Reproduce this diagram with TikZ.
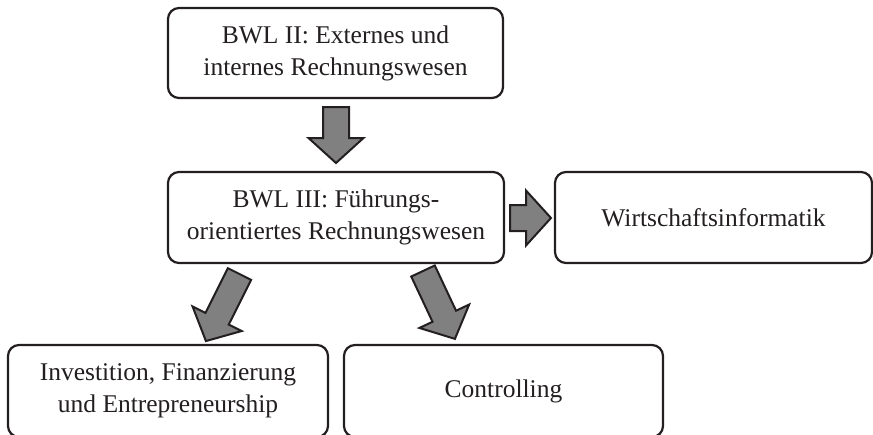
\documentclass[tikz,border=0pt]{standalone}
\usepackage{fontspec}
\setmainfont{Liberation Serif}
\definecolor{arrowgray}{RGB}{128,128,128}
\definecolor{inkblack}{RGB}{35,31,32}
\begin{document}
\begin{tikzpicture}[x=1pt,y=-1pt,
  box/.style={draw=inkblack, line width=2.2pt, rounded corners=11pt,
    align=center, inner sep=0pt, text=inkblack,
    font=\fontsize{25.5}{32}\selectfont},
  arrowbody/.style={fill=arrowgray, draw=inkblack, line width=2pt, line join=miter},
  pics/blockarrow/.style={code={
    \filldraw[arrowbody] (0,-13) -- ({#1-25},-13) -- ({#1-25},-27.5) -- (#1,0)
      -- ({#1-25},27.5) -- ({#1-25},13) -- (0,13) -- cycle;}}
]
\useasboundingbox (0,0) rectangle (873,434);
\clip (0,0) rectangle (873,434);

% boxes
\node[box, minimum width=335, minimum height=90] (rw) at (335.5,53)
  {BWL II: Externes und\\internes Rechnungswesen};
\node[box, minimum width=336, minimum height=91] (fr) at (336,217.5)
  {BWL III: Führungs-\\orientiertes Rechnungswesen};
\node[box, minimum width=317, minimum height=91] (wi) at (713.5,217.5)
  {Wirtschaftsinformatik};
\node[box, minimum width=320, minimum height=92] (ife) at (168,391)
  {Investition, Finanzierung\\und Entrepreneurship};
\node[box, minimum width=319, minimum height=92] (co) at (503.5,391)
  {Controlling};

% block arrows between the boxes
\coordinate (a1) at (336,107);
\coordinate (a2) at (510,218);
\coordinate (a3) at (239.5,274);
\coordinate (a4) at (423,271);
\pic[rotate=-90] at (a1) {blockarrow=56};
\pic at (a2) {blockarrow=41};
\pic[rotate=-116.6] at (a3) {blockarrow=75};
\pic[rotate=-64.8] at (a4) {blockarrow=75};
\end{tikzpicture}
\end{document}
